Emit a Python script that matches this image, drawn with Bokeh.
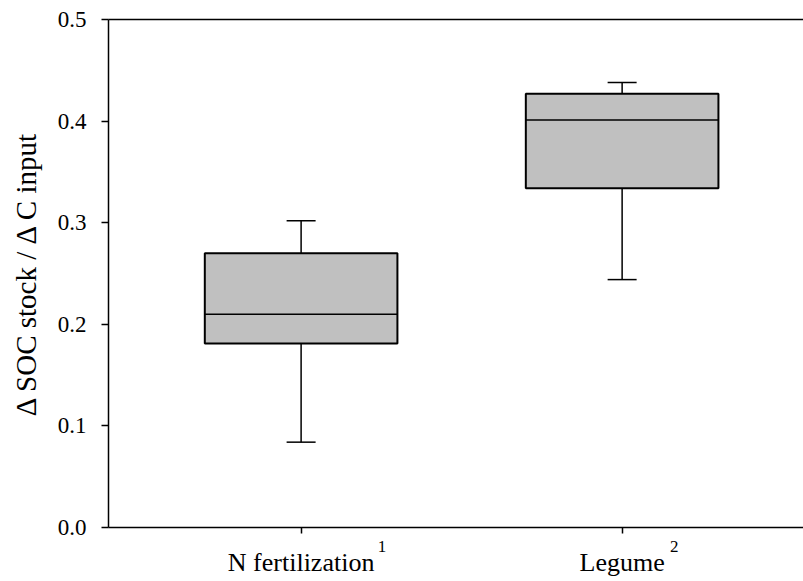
from bokeh.plotting import figure
from bokeh.models import (FixedTicker, LinearAxis, Range1d, ColumnDataSource)
from bokeh.embed import file_html
from bokeh.resources import INLINE

# ---- data ----
categories = ["N fertilization", "Legume"]
superscripts = ["1", "2"]
positions = [1, 2]
whisker_low = [0.084, 0.244]
q1 = [0.181, 0.334]
median = [0.210, 0.401]
q3 = [0.270, 0.427]
whisker_high = [0.302, 0.438]
y_ticks = [0.0, 0.1, 0.2, 0.3, 0.4, 0.5]
y_tick_labels = ["0.0", "0.1", "0.2", "0.3", "0.4", "0.5"]
y_label = "\u0394 SOC stock / \u0394 C input"

FONT = "Liberation Serif"
BOX_W = 0.6
PX_PER_UNIT = 321.0
sup_px_offsets = [81, 52]  # superscript start, px right of the tick

src = ColumnDataSource(dict(
    x=positions, lo=whisker_low, q1=q1, med=median, q3=q3, hi=whisker_high,
    xl=[p - BOX_W / 2 for p in positions], xr=[p + BOX_W / 2 for p in positions],
))

p = figure(width=803, height=581, output_backend="svg", toolbar_location=None,
           x_range=Range1d(0.4, 2.565), y_range=Range1d(0, 0.5),
           min_border_left=108, min_border_right=0, min_border_top=19,
           min_border_bottom=54)
p.outline_line_color = None
p.background_fill_color = "white"
p.border_fill_color = "white"
p.xgrid.visible = False
p.ygrid.visible = False

# whiskers
p.segment(x0="x", y0="q3", x1="x", y1="hi", source=src, line_color="black", line_width=1.5)
p.segment(x0="x", y0="q1", x1="x", y1="lo", source=src, line_color="black", line_width=1.5)
p.scatter(x="x", y="hi", source=src, marker="dash", size=29, line_color="black", line_width=1.5)
p.scatter(x="x", y="lo", source=src, marker="dash", size=29, line_color="black", line_width=1.5)
# boxes
p.vbar(x="x", width=BOX_W, bottom="q1", top="q3", source=src,
       fill_color="#c0c0c0", line_color="black", line_width=2)
# medians
p.segment(x0="xl", y0="med", x1="xr", y1="med", source=src, line_color="black", line_width=1.5)

# y axis
ya = p.yaxis[0]
ya.ticker = FixedTicker(ticks=y_ticks)
ya.major_label_overrides = {t: l for t, l in zip(y_ticks, y_tick_labels)}
ya.minor_tick_line_color = None
ya.major_tick_in = 0
ya.major_tick_out = 7
ya.major_tick_line_width = 1.5
ya.axis_line_width = 1.5
ya.major_label_text_font = FONT
ya.major_label_text_font_size = "23px"
ya.major_label_text_color = "black"
ya.major_label_standoff = 15
ya.axis_label = y_label
ya.axis_label_text_font = FONT
ya.axis_label_text_font_style = "normal"
ya.axis_label_text_font_size = "29px"
ya.axis_label_text_color = "black"
ya.axis_label_standoff = 13

# x axis: line + ticks only
xa = p.xaxis[0]
xa.ticker = FixedTicker(ticks=positions)
xa.minor_tick_line_color = None
xa.major_tick_in = 0
xa.major_tick_out = 6
xa.major_tick_line_width = 1.5
xa.axis_line_width = 1.5
xa.major_label_standoff = 0
xa.major_label_text_font_size = "1px"
xa.major_label_text_color = None

# superscripts axis
sup_ticks = [pos + off / PX_PER_UNIT for pos, off in zip(positions, sup_px_offsets)]
sup_axis = LinearAxis(ticker=FixedTicker(ticks=sup_ticks),
                      major_label_overrides={t: s for t, s in zip(sup_ticks, superscripts)},
                      axis_line_color=None, major_tick_line_color=None,
                      minor_tick_line_color=None, major_tick_out=0, major_tick_in=0,
                      major_label_standoff=7, major_label_text_align="left",
                      major_label_text_font=FONT, major_label_text_font_size="17px",
                      major_label_text_color="black")
p.add_layout(sup_axis, "below")

# category axis
cat_axis = LinearAxis(ticker=FixedTicker(ticks=positions),
                      major_label_overrides={pos: c for pos, c in zip(positions, categories)},
                      axis_line_color=None, major_tick_line_color=None,
                      minor_tick_line_color=None, major_tick_out=0, major_tick_in=0,
                      major_label_standoff=-7,
                      major_label_text_font=FONT, major_label_text_font_size="26px",
                      major_label_text_color="black")
p.add_layout(cat_axis, "below")

# top frame line
top = LinearAxis(ticker=FixedTicker(ticks=[]), axis_line_width=1.5,
                 major_label_text_color=None, major_label_text_font_size="1px",
                 major_tick_line_color=None, minor_tick_line_color=None)
p.add_layout(top, "above")

open("out.html", "w").write(file_html(p, INLINE))
